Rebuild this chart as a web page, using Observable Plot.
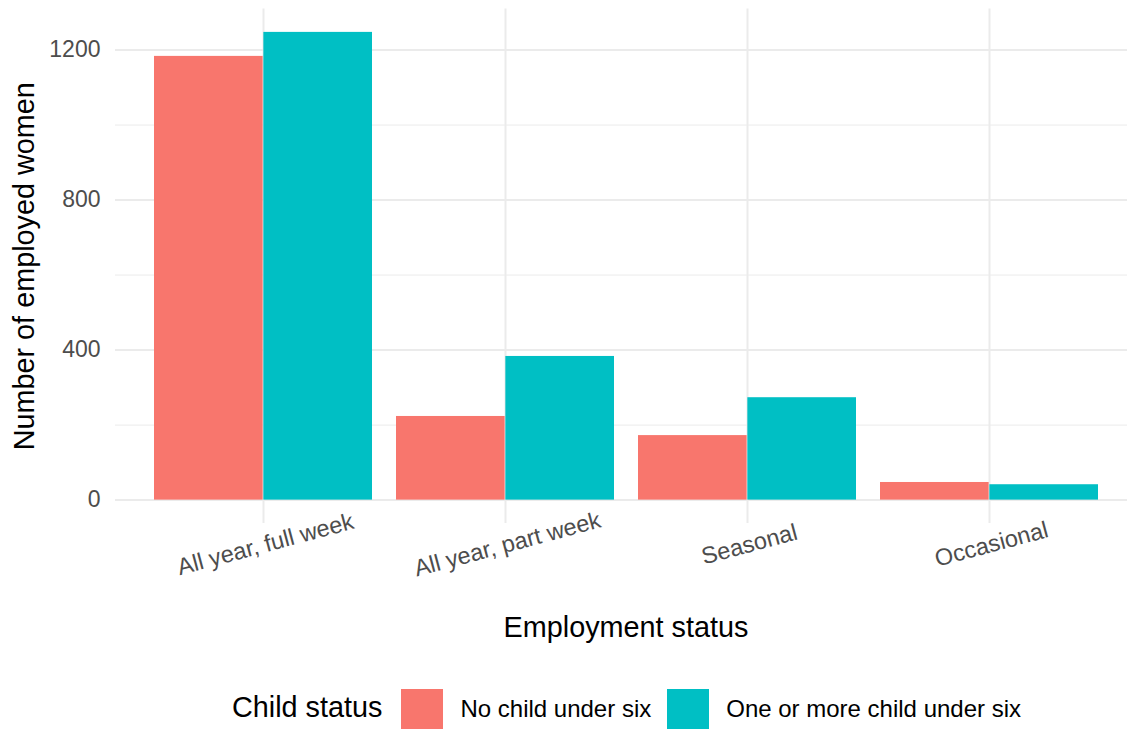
<!DOCTYPE html>
<html>
<head>
<meta charset="utf-8">
<script src="https://cdn.jsdelivr.net/npm/d3@7"></script>
<script src="https://cdn.jsdelivr.net/npm/@observablehq/plot@0.6"></script>
<style>
  body { margin: 0; background: #fff; overflow: hidden; font-family: "Liberation Sans", Arial, sans-serif; }
  #legend { display: flex; align-items: center; height: 40px; margin-top: 19px; padding-left: 232px; }
  #legend .title { font-size: 28.8px; color: #000; margin-right: 19px; position: relative; top: -2px; }
  #legend .sw { width: 42px; height: 40px; margin-right: 17px; }
  #legend .lab { font-size: 24px; color: #000; margin-right: 16px; }
</style>
</head>
<body>
<div id="chart"></div>
<div id="legend"></div>
<script>
// ---- data ----
const categories = ["All year, full week", "All year, part week", "Seasonal", "Occasional"];
const series = ["No child under six", "One or more child under six"];
const noChildUnderSix = [1183, 223, 172, 47];
const oneOrMoreChildUnderSix = [1247, 383, 273, 41];
const seriesColors = ["#F8766D", "#00BFC4"];
const yTicks = [0, 400, 800, 1200];
const yMinorTicks = [200, 600, 1000];
const xTitle = "Employment status";
const yTitle = "Number of employed women";
const legendTitle = "Child status";

const data = categories.flatMap((c, i) => [
  {category: c, series: series[0], value: noChildUnderSix[i]},
  {category: c, series: series[1], value: oneOrMoreChildUnderSix[i]}
]);

// ---- layout ----
const W = 1127, H = 670, mL = 115, mT = 8.5, mB = 147;
const xLeft = 115.2, xRight = 1135.8;
const padInner = 0.1, padOuter = 0.15;
const step = (xRight - xLeft) / (categories.length - padInner + 2 * padOuter);
const half = step * (1 - padInner) / 2;
const yMax = d3.max(data, d => d.value);
const grid = "#EBEBEB";

const chart = Plot.plot({
  width: W, height: H,
  marginLeft: mL, marginRight: 0, marginTop: mT, marginBottom: mB,
  style: {fontFamily: "'Liberation Sans', Arial, sans-serif", fontSize: "23px", background: "#fff"},
  x: {type: "band", domain: categories, range: [xLeft, xRight], paddingInner: padInner, paddingOuter: padOuter, axis: null},
  y: {domain: [-0.05 * yMax, 1.05 * yMax], axis: null},
  color: {domain: series, range: seriesColors},
  marks: [
    Plot.ruleY(yMinorTicks, {stroke: grid, strokeWidth: 1}),
    Plot.ruleY(yTicks, {stroke: grid, strokeWidth: 2}),
    Plot.ruleX(categories, {x: d => d, stroke: grid, strokeWidth: 2}),
    Plot.barY(data.filter(d => d.series === series[0]), {x: "category", y: "value", fill: "series", insetLeft: 0, insetRight: half}),
    Plot.barY(data.filter(d => d.series === series[1]), {x: "category", y: "value", fill: "series", insetLeft: half, insetRight: 0}),
    Plot.text(yTicks, {y: d => d, text: d3.format("d"), frameAnchor: "left", textAnchor: "end", dx: -15,
      fontSize: 23, fill: "#4D4D4D", lineAnchor: "middle"}),
    Plot.text(categories, {x: d => d, text: d => d, frameAnchor: "bottom", rotate: -15, dx: 2, dy: 21,
      fontSize: 23.5, fill: "#4D4D4D", textAnchor: "middle", lineAnchor: "middle"}),
    Plot.text([xTitle], {text: d => d, frameAnchor: "bottom", dx: (xLeft + xRight) / 2 - (mL + W) / 2, dy: 104.6,
      fontSize: 28.8, fill: "#000", textAnchor: "middle", lineAnchor: "middle"}),
    Plot.text([yTitle], {text: d => d, frameAnchor: "left", rotate: -90, dx: -91,
      fontSize: 28.8, fill: "#000", textAnchor: "middle", lineAnchor: "middle"})
  ]
});
document.getElementById("chart").appendChild(chart);

// ---- legend ----
const legend = d3.select("#legend");
legend.append("span").attr("class", "title").text(legendTitle);
series.forEach((s, i) => {
  legend.append("span").attr("class", "sw").style("background", seriesColors[i]);
  legend.append("span").attr("class", "lab").text(s);
});
</script>
</body>
</html>
